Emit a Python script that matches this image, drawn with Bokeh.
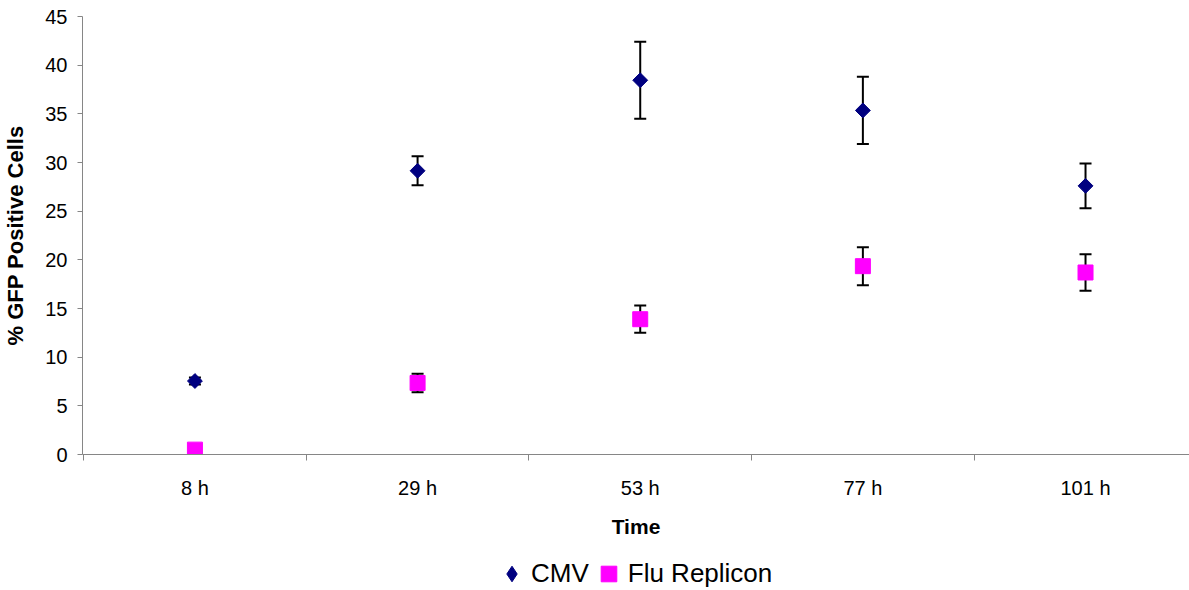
import numpy as np
from bokeh.plotting import figure
from bokeh.layouts import column
from bokeh.models import (ColumnDataSource, Whisker, TeeHead, Range1d, FixedTicker,
                          Legend, LegendItem)
from bokeh.embed import file_html
from bokeh.resources import INLINE

# ---- data ----
categories = ["8 h", "29 h", "53 h", "77 h", "101 h"]
cmv = [7.55, 29.15, 38.45, 35.35, 27.6]
cmv_err = [0.35, 1.5, 3.95, 3.45, 2.3]
flu = [0.5, 7.35, 13.9, 19.35, 18.7]
flu_err = [0.2, 0.95, 1.4, 1.95, 1.88]
y_ticks = [0, 5, 10, 15, 20, 25, 30, 35, 40, 45]
series_names = ["CMV", "Flu Replicon"]
series_colors = ["#000080", "#FF00FF"]

FONT = "Liberation Sans"
xs = list(range(len(categories)))

src_cmv = ColumnDataSource(dict(x=xs, y=cmv,
                                upper=[v + e for v, e in zip(cmv, cmv_err)],
                                lower=[v - e for v, e in zip(cmv, cmv_err)]))
src_flu = ColumnDataSource(dict(x=xs, y=flu,
                                upper=[v + e for v, e in zip(flu, flu_err)],
                                lower=[v - e for v, e in zip(flu, flu_err)]))

p = figure(width=1189, height=540, output_backend="svg", toolbar_location=None,
           x_range=Range1d(-0.505, 4.467), y_range=Range1d(0, 45),
           min_border_left=81, min_border_right=0, min_border_top=16, min_border_bottom=86)
p.outline_line_color = None
p.xgrid.visible = False
p.ygrid.visible = False
p.background_fill_color = "white"
p.border_fill_color = "white"

# error bars
for src in (src_cmv, src_flu):
    w = Whisker(base="x", upper="upper", lower="lower", source=src, level="underlay",
                line_color="black", line_width=2,
                upper_head=TeeHead(size=12, line_color="black", line_width=2),
                lower_head=TeeHead(size=12, line_color="black", line_width=2))
    p.add_layout(w)

p.scatter("x", "y", source=src_cmv, marker="square", angle=np.pi / 4, size=10.5,
          fill_color=series_colors[0], line_color=series_colors[0])
p.scatter("x", "y", source=src_flu, marker="square", size=15,
          fill_color=series_colors[1], line_color=series_colors[1])

# axes
xa = p.xaxis[0]
xa.ticker = FixedTicker(ticks=xs, minor_ticks=[i - 0.5 for i in range(len(categories) + 1)])
xa.major_label_overrides = {i: c for i, c in enumerate(categories)}
xa.major_tick_out = 0
xa.major_tick_in = 0
xa.minor_tick_out = 6
xa.minor_tick_in = 0
xa.minor_tick_line_color = "#868686"
xa.axis_line_color = "#868686"
xa.major_label_text_font = FONT
xa.major_label_text_font_size = "20px"
xa.major_label_text_color = "black"
xa.major_label_standoff = 16
xa.axis_label = "Time"
xa.axis_label_text_font = FONT
xa.axis_label_text_font_size = "21px"
xa.axis_label_text_font_style = "bold"
xa.axis_label_text_color = "black"
xa.axis_label_standoff = 13

ya = p.yaxis[0]
ya.ticker = FixedTicker(ticks=y_ticks, minor_ticks=[])
ya.major_tick_out = 5
ya.major_tick_in = 0
ya.major_tick_line_color = "#868686"
ya.axis_line_color = "#868686"
ya.major_label_text_font = FONT
ya.major_label_text_font_size = "20px"
ya.major_label_text_color = "black"
ya.major_label_standoff = 10
ya.axis_label = "% GFP Positive Cells"
ya.axis_label_text_font = FONT
ya.axis_label_text_font_size = "22px"
ya.axis_label_text_font_style = "bold"
ya.axis_label_text_color = "black"
ya.axis_label_standoff = 14

# ---- legend strip below the chart ----
# (the strip's ranges lie far from the data, so its glyphs only appear as legend keys)
lf = figure(width=1189, height=50, output_backend="svg", toolbar_location=None,
            x_range=Range1d(-200, -199), y_range=Range1d(-200, -199),
            x_axis_location=None, y_axis_location=None,
            min_border=0, min_border_left=0, min_border_right=0,
            min_border_top=0, min_border_bottom=0)
lf.grid.visible = False
lf.outline_line_color = None
lf.background_fill_color = "white"
lf.border_fill_color = "white"
leg_cmv = lf.scatter("x", "y", source=src_cmv, marker="diamond", size=10,
                     fill_color=series_colors[0], line_color=series_colors[0])
leg_flu = lf.scatter("x", "y", source=src_flu, marker="square", size=10,
                     fill_color=series_colors[1], line_color=series_colors[1])
legend = Legend(items=[LegendItem(label=series_names[0], renderers=[leg_cmv]),
                       LegendItem(label=series_names[1], renderers=[leg_flu])],
                orientation="horizontal", location=(410, -3),
                label_text_font=FONT, label_text_font_size="26px", label_text_color="black",
                glyph_width=39, glyph_height=39, label_standoff=0, spacing=0,
                padding=0, margin=0, border_line_color=None, background_fill_alpha=0)
lf.add_layout(legend)

layout = column(p, lf, spacing=0)
open("out.html", "w").write(file_html(layout, INLINE))
